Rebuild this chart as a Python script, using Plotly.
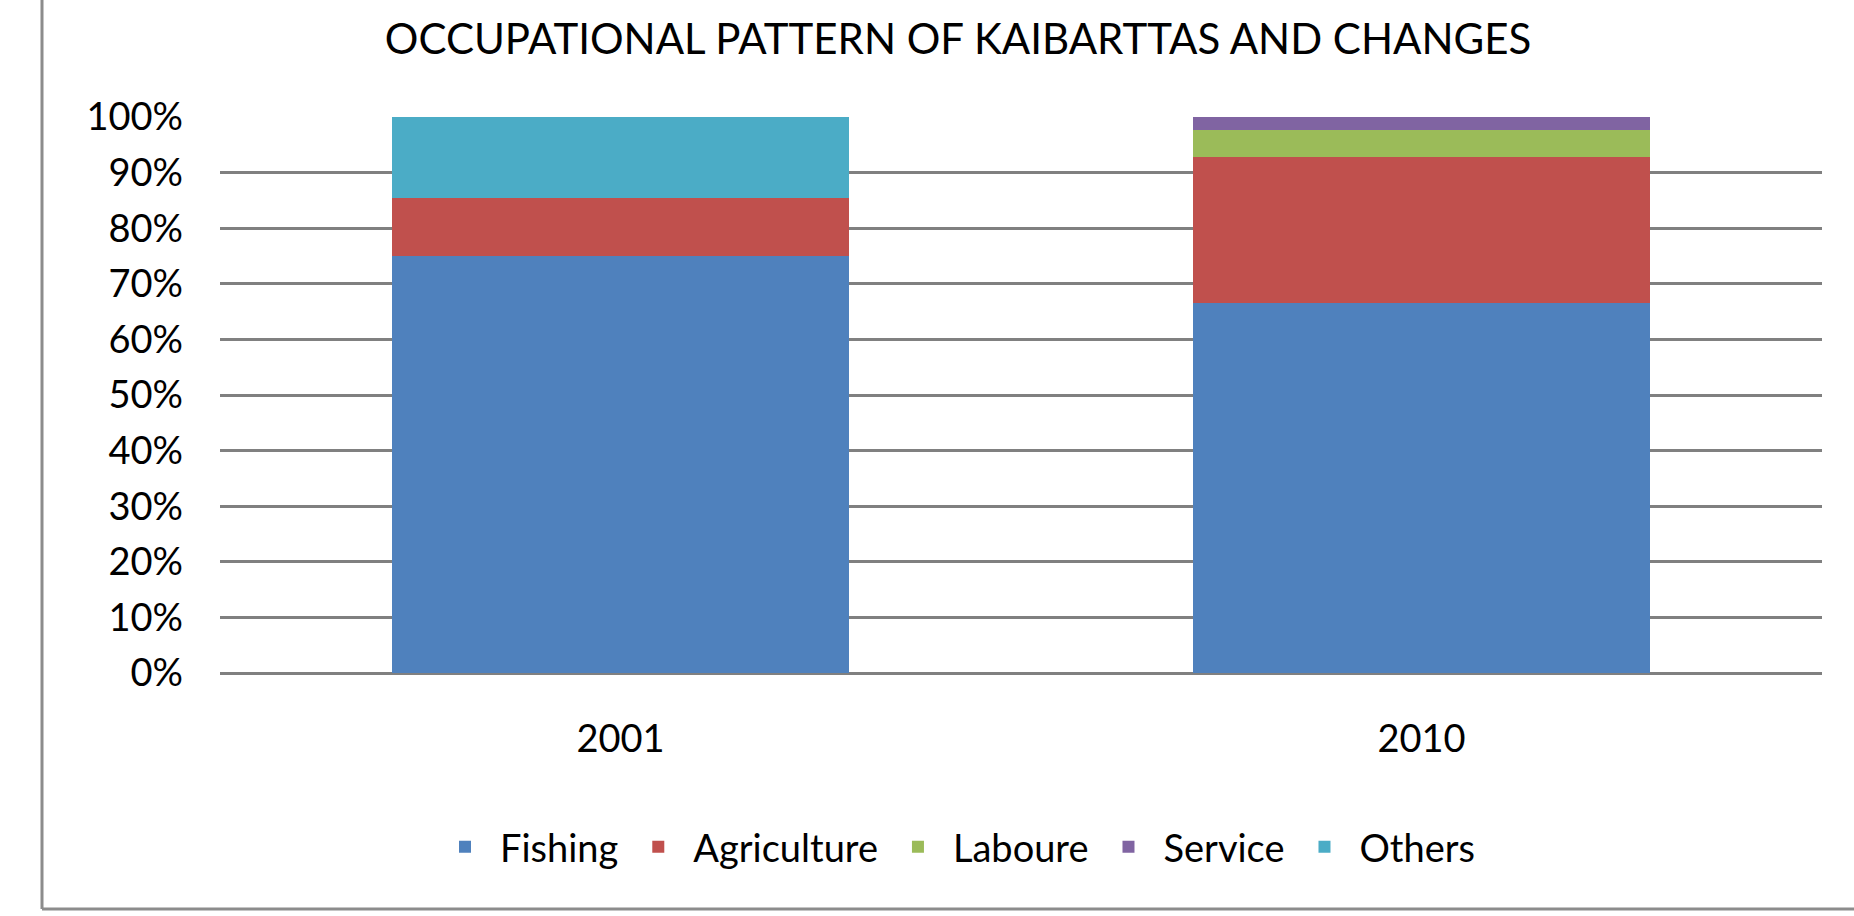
import plotly.graph_objects as go

years = ["2001", "2010"]
fishing = [75.0, 66.5]
agriculture = [10.5, 26.3]
laboure = [0.0, 4.9]
service = [0.0, 2.3]
others = [14.5, 0.0]

series_names = ["Fishing", "Agriculture", "Laboure", "Service", "Others"]
series_values = [fishing, agriculture, laboure, service, others]
colors = ["#4F81BD", "#C0504D", "#9BBB59", "#8064A2", "#4BACC6"]

FONT = "Lato"
W, H = 1854, 916
L, R, T, B = 220, 32, 117, 243
pw, ph = W - L - R, H - T - B

fig = go.Figure()
for name, vals, c in zip(series_names, series_values, colors):
    fig.add_trace(go.Bar(x=years, y=vals, name=name, marker=dict(color=c, line=dict(width=0))))

def px_to_paper_x(px):
    return (px - L) / pw

def px_to_paper_y(py):
    return (H - B - py) / ph

fig.update_layout(
    width=W, height=H,
    barmode="stack", bargap=0.43,
    paper_bgcolor="white", plot_bgcolor="white",
    margin=dict(l=L, r=R, t=T, b=B),
    font=dict(family=FONT, color="black", size=38),
    title=dict(text="OCCUPATIONAL PATTERN OF KAIBARTTAS AND CHANGES",
               xref="container", yref="container", x=958 / W, y=1 - 39 / H,
               xanchor="center", yanchor="middle",
               font=dict(family=FONT, size=42, color="black")),
    xaxis=dict(showgrid=False, showline=False, ticks="", tickfont=dict(size=38),
               ticklabelstandoff=40),
    yaxis=dict(range=[0, 100], dtick=10, ticksuffix="%", showgrid=True,
               gridcolor="#808080", gridwidth=2.5, zeroline=True, zerolinecolor="#808080",
               zerolinewidth=2.5, showline=False, ticks="", tickfont=dict(size=38),
               ticklabelstandoff=36),
    legend=dict(orientation="h", x=px_to_paper_x(955), xanchor="center",
                y=px_to_paper_y(847), yanchor="middle",
                font=dict(size=38), itemwidth=60, traceorder="normal"),
    showlegend=True,
)

border_color = "#8c8c8c"
fig.add_shape(type="line", xref="paper", yref="paper",
              x0=px_to_paper_x(42), x1=px_to_paper_x(42),
              y0=px_to_paper_y(0), y1=px_to_paper_y(909),
              line=dict(color=border_color, width=3))
fig.add_shape(type="line", xref="paper", yref="paper",
              x0=px_to_paper_x(42), x1=px_to_paper_x(W),
              y0=px_to_paper_y(909), y1=px_to_paper_y(909),
              line=dict(color=border_color, width=3))

fig.write_html("out.html")
